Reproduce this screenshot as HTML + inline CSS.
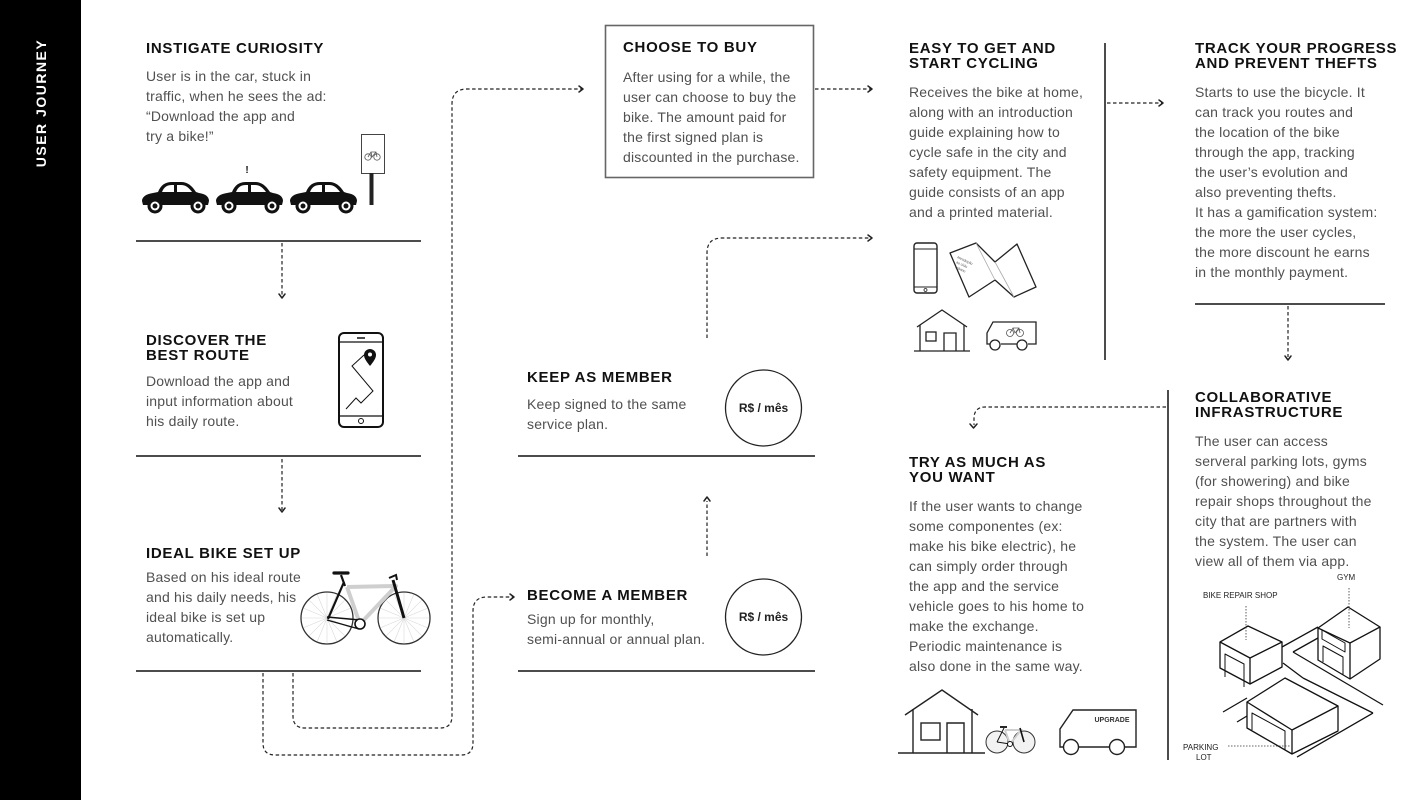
<!DOCTYPE html>
<html><head><meta charset="utf-8">
<style>
html,body{margin:0;padding:0;background:#fff;}
svg{display:block;}
.t{font-family:"Liberation Sans",sans-serif;font-weight:bold;font-size:15px;letter-spacing:0.7px;fill:#111;}
.b{font-family:"Liberation Sans",sans-serif;font-size:14px;letter-spacing:0.2px;fill:#505050;}
.d{fill:none;stroke:#222;stroke-width:1.2;stroke-dasharray:3.5 2.5;}
.c{fill:none;stroke:#222;stroke-width:1.5;stroke-linecap:round;stroke-linejoin:round;}
.sl{stroke:#111;stroke-width:1.4;}
.lbl{font-family:"Liberation Sans",sans-serif;font-size:8px;fill:#222;}
</style></head>
<body>
<svg width="1420" height="800" viewBox="0 0 1420 800" xmlns="http://www.w3.org/2000/svg">
<defs>
  <g id="car">
    <path d="M1,20 C1,16 5,13 12,12 L17,11 C20,4 24,1 31,1 L40,1 C47,1 51,5 55,11 L58,12 C65,13 68,16 68,20 L67,24 L2,24 Z" fill="#111"/>
    <path d="M21,11 C23,6 26,4 31,4 L33,4 L33,11 Z" fill="#fff"/>
    <path d="M36,4 L40,4 C45,4 48,7 51,11 L36,11 Z" fill="#fff"/>
    <circle cx="14" cy="25" r="7.5" fill="#111"/><circle cx="14" cy="25" r="4.5" fill="#fff"/><circle cx="14" cy="25" r="2.5" fill="#111"/>
    <circle cx="57" cy="25" r="7.5" fill="#111"/><circle cx="57" cy="25" r="4.5" fill="#fff"/><circle cx="57" cy="25" r="2.5" fill="#111"/>
  </g>
  <g id="spokes" stroke="#d8d8d8" stroke-width="0.6">
    <line x1="-25" y1="0" x2="25" y2="0"/><line x1="-23.1" y1="-9.6" x2="23.1" y2="9.6"/>
    <line x1="-17.7" y1="-17.7" x2="17.7" y2="17.7"/><line x1="-9.6" y1="-23.1" x2="9.6" y2="23.1"/>
    <line x1="0" y1="-25" x2="0" y2="25"/><line x1="9.6" y1="-23.1" x2="-9.6" y2="23.1"/>
    <line x1="17.7" y1="-17.7" x2="-17.7" y2="17.7"/><line x1="23.1" y1="-9.6" x2="-23.1" y2="9.6"/>
  </g>
</defs>
<rect width="1420" height="800" fill="#fff"/>
<!-- sidebar -->
<rect x="0" y="0" width="81" height="800" fill="#000"/>
<text transform="translate(46,103) rotate(-90)" text-anchor="middle" font-family="Liberation Sans, sans-serif" font-weight="bold" font-size="14" letter-spacing="1.5" fill="#fff">USER JOURNEY</text>

<!-- ===== Column 1 ===== -->
<text class="t" x="146" y="53">INSTIGATE CURIOSITY</text>
<text class="b" x="146" y="81">User is in the car, stuck in</text>
<text class="b" x="146" y="101">traffic, when he sees the ad:</text>
<text class="b" x="146" y="121">“Download the app and</text>
<text class="b" x="146" y="141">try a bike!”</text>
<use href="#car" x="141" y="181"/>
<use href="#car" x="215" y="181"/>
<use href="#car" x="289" y="181"/>
<text x="247" y="173" font-family="Liberation Sans, sans-serif" font-weight="bold" font-size="10" fill="#111" text-anchor="middle">!</text>
<rect x="361.5" y="134.5" width="23" height="39" fill="#fff" stroke="#444" stroke-width="1"/>
<rect x="369.5" y="173" width="4" height="32" fill="#222"/>
<g fill="none" stroke="#555" stroke-width="0.8">
  <circle cx="368" cy="157" r="3.2"/><circle cx="377" cy="157" r="3.2"/>
  <path d="M368,157 L371,152 L376,152 L377,157 M371,152 L372,157 L376,152"/>
</g>
<line class="sl" x1="136" y1="241" x2="421" y2="241"/>
<path class="d" d="M282,243 V296"/><path class="c" d="M279,294 L282,298 L285,294"/>

<text class="t" x="146" y="345">DISCOVER THE</text>
<text class="t" x="146" y="360">BEST ROUTE</text>
<text class="b" x="146" y="386">Download the app and</text>
<text class="b" x="146" y="406">input information about</text>
<text class="b" x="146" y="426">his daily route.</text>
<rect x="339" y="333" width="44" height="94" rx="5" fill="none" stroke="#111" stroke-width="2"/>
<line x1="339" y1="342" x2="383" y2="342" stroke="#111" stroke-width="1.2"/>
<line x1="339" y1="416" x2="383" y2="416" stroke="#111" stroke-width="1.2"/>
<line x1="357" y1="338" x2="365" y2="338" stroke="#111" stroke-width="1.5"/>
<circle cx="361" cy="421" r="2.5" fill="none" stroke="#111" stroke-width="1"/>
<polyline points="346,409 356,398 361,403 373,391 352,366 364,355" fill="none" stroke="#111" stroke-width="1"/>
<path d="M370,366 C366,361 364,358 364,355 A6,6 0 1 1 376,355 C376,358 374,361 370,366 Z" fill="#111"/>
<circle cx="370" cy="354.5" r="2" fill="#fff"/>
<line class="sl" x1="136" y1="456" x2="421" y2="456"/>
<path class="d" d="M282,459 V510"/><path class="c" d="M279,508 L282,512 L285,508"/>

<text class="t" x="146" y="558">IDEAL BIKE SET UP</text>
<text class="b" x="146" y="582">Based on his ideal route</text>
<text class="b" x="146" y="602">and his daily needs, his</text>
<text class="b" x="146" y="622">ideal bike is set up</text>
<text class="b" x="146" y="642">automatically.</text>
<!-- bike -->
<use href="#spokes" x="327" y="618"/>
<use href="#spokes" x="404" y="618"/>
<circle cx="327" cy="618" r="26" fill="none" stroke="#333" stroke-width="1.3"/>
<circle cx="404" cy="618" r="26" fill="none" stroke="#333" stroke-width="1.3"/>
<polyline points="347,587 396,586 360,624 347,587" fill="none" stroke="#cfcfcf" stroke-width="4" stroke-linejoin="round"/>
<line x1="344" y1="582" x2="328" y2="619" stroke="#111" stroke-width="2.2"/>
<line x1="341" y1="575" x2="345" y2="586" stroke="#111" stroke-width="2.2"/>
<line x1="334" y1="573" x2="348" y2="573" stroke="#111" stroke-width="3.2" stroke-linecap="round"/>
<line x1="327" y1="617" x2="360" y2="620" stroke="#111" stroke-width="1.4"/>
<line x1="327" y1="620" x2="359" y2="629" stroke="#111" stroke-width="1.4"/>
<circle cx="360" cy="624" r="5" fill="#fff" stroke="#111" stroke-width="1.6"/>
<line x1="393" y1="580" x2="404" y2="618" stroke="#111" stroke-width="3"/>
<path d="M389,578 L396,575 L397,580" fill="none" stroke="#111" stroke-width="2"/>
<line class="sl" x1="136" y1="671" x2="421" y2="671"/>

<!-- long connectors -->
<path class="d" d="M293,673 V716 Q293,728 305,728 H440 Q452,728 452,716 V104 Q452,89 467,89 H582"/>
<path class="c" d="M579,86 L583,89 L579,92"/>
<path class="d" d="M263,673 V743 Q263,755 275,755 H461 Q473,755 473,743 V611 Q473,597 487,597 H513"/>
<path class="c" d="M510,594 L514,597 L510,600"/>

<!-- ===== Column 2 ===== -->
<rect x="605.5" y="25.5" width="208" height="152" fill="none" stroke="#666" stroke-width="1.6"/>
<text class="t" x="623" y="52">CHOOSE TO BUY</text>
<text class="b" x="623" y="82">After using for a while, the</text>
<text class="b" x="623" y="102">user can choose to buy the</text>
<text class="b" x="623" y="122">bike. The amount paid for</text>
<text class="b" x="623" y="142">the first signed plan is</text>
<text class="b" x="623" y="162">discounted in the purchase.</text>
<path class="d" d="M815,89 H871"/><path class="c" d="M868,86 L872,89 L868,92"/>

<path class="d" d="M707,338 V253 Q707,238 722,238 H871"/><path class="c" d="M868,235 L872,238 L868,241"/>

<text class="t" x="527" y="382">KEEP AS MEMBER</text>
<text class="b" x="527" y="409">Keep signed to the same</text>
<text class="b" x="527" y="429">service plan.</text>
<circle cx="763.5" cy="408" r="38" fill="none" stroke="#222" stroke-width="1.3"/>
<text x="763.5" y="412" text-anchor="middle" font-family="Liberation Sans, sans-serif" font-weight="bold" font-size="12" fill="#222">R$ / mês</text>
<line class="sl" x1="518" y1="456" x2="815" y2="456"/>

<path class="d" d="M707,556 V501"/><path class="c" d="M704,501 L707,497 L710,501"/>

<text class="t" x="527" y="600">BECOME A MEMBER</text>
<text class="b" x="527" y="624">Sign up for monthly,</text>
<text class="b" x="527" y="644">semi-annual or annual plan.</text>
<circle cx="763.5" cy="617" r="38" fill="none" stroke="#222" stroke-width="1.3"/>
<text x="763.5" y="621" text-anchor="middle" font-family="Liberation Sans, sans-serif" font-weight="bold" font-size="12" fill="#222">R$ / mês</text>
<line class="sl" x1="518" y1="671" x2="815" y2="671"/>

<!-- ===== Column 3 ===== -->
<text class="t" x="909" y="53">EASY TO GET AND</text>
<text class="t" x="909" y="68">START CYCLING</text>
<text class="b" x="909" y="97">Receives the bike at home,</text>
<text class="b" x="909" y="117">along with an introduction</text>
<text class="b" x="909" y="137">guide explaining how to</text>
<text class="b" x="909" y="157">cycle safe in the city and</text>
<text class="b" x="909" y="177">safety equipment. The</text>
<text class="b" x="909" y="197">guide consists of an app</text>
<text class="b" x="909" y="217">and a printed material.</text>
<!-- small phone -->
<rect x="914" y="243" width="23" height="50" rx="3" fill="none" stroke="#222" stroke-width="1.4"/>
<line x1="914" y1="249" x2="937" y2="249" stroke="#222" stroke-width="1"/>
<line x1="914" y1="287" x2="937" y2="287" stroke="#222" stroke-width="1"/>
<circle cx="925.5" cy="290" r="1.5" fill="none" stroke="#222" stroke-width="0.8"/>
<!-- brochure -->
<polygon points="950,253 976,243 995,262 1017,244 1036,287 1014,297 995,280 969,297" fill="#fff" stroke="#222" stroke-width="1.3" stroke-linejoin="round"/>
<line x1="976" y1="243" x2="995" y2="280" stroke="#aaa" stroke-width="0.8"/>
<line x1="995" y1="262" x2="1014" y2="297" stroke="#aaa" stroke-width="0.8"/>
<text transform="translate(957,258) rotate(25)" font-family="Liberation Sans, sans-serif" font-size="3.5" fill="#444">Introdução</text>
<text transform="translate(956,263) rotate(25)" font-family="Liberation Sans, sans-serif" font-size="3.5" fill="#444">ao ciclo</text>
<text transform="translate(955,268) rotate(25)" font-family="Liberation Sans, sans-serif" font-size="3.5" fill="#444">urbano</text>
<!-- house small -->
<g fill="none" stroke="#222" stroke-width="1.3">
  <polyline points="917,327 942,310 967,327"/>
  <line x1="920" y1="325" x2="920" y2="351"/><line x1="964" y1="325" x2="964" y2="351"/>
  <line x1="914" y1="351" x2="970" y2="351"/>
  <rect x="926" y="332" width="10" height="9"/>
  <polyline points="944,351 944,333 956,333 956,351"/>
</g>
<!-- van small -->
<g fill="none" stroke="#222" stroke-width="1.3">
  <path d="M990,344 L987,344 L987,333 L993,322 L1036,322 L1036,344 L1028,344 M1017,344 L1001,344"/>
  <circle cx="995" cy="345" r="5" fill="#fff"/><circle cx="1022" cy="345" r="5" fill="#fff"/>
</g>
<g fill="none" stroke="#555" stroke-width="0.8">
  <circle cx="1010" cy="333" r="3.5"/><circle cx="1020" cy="333" r="3.5"/>
  <path d="M1010,333 L1013,328 L1019,328 L1020,333 M1013,328 L1015,333 L1019,328"/>
</g>

<line x1="1105" y1="43" x2="1105" y2="360" stroke="#111" stroke-width="1.5"/>
<path class="d" d="M1107,103 H1162"/><path class="c" d="M1159,100 L1163,103 L1159,106"/>

<text class="t" x="909" y="467">TRY AS MUCH AS</text>
<text class="t" x="909" y="482">YOU WANT</text>
<text class="b" x="909" y="511">If the user wants to change</text>
<text class="b" x="909" y="531">some componentes (ex:</text>
<text class="b" x="909" y="551">make his bike electric), he</text>
<text class="b" x="909" y="571">can simply order through</text>
<text class="b" x="909" y="591">the app and the service</text>
<text class="b" x="909" y="611">vehicle goes to his home to</text>
<text class="b" x="909" y="631">make the exchange.</text>
<text class="b" x="909" y="651">Periodic maintenance is</text>
<text class="b" x="909" y="671">also done in the same way.</text>
<!-- house large -->
<g fill="none" stroke="#222" stroke-width="1.4">
  <polyline points="905,715 942,690 978,715"/>
  <line x1="913" y1="709" x2="913" y2="753"/><line x1="972" y1="709" x2="972" y2="753"/>
  <line x1="898" y1="753" x2="985" y2="753"/>
  <rect x="921" y="723" width="19" height="17"/>
  <polyline points="947,753 947,723 964,723 964,753"/>
</g>
<!-- small bike -->
<circle cx="997" cy="742" r="11" fill="#f2f2f2" stroke="#333" stroke-width="1"/>
<circle cx="1024" cy="742" r="11" fill="#f2f2f2" stroke="#333" stroke-width="1"/>
<polyline points="1005,730 1021,730 1010,744 1005,730" fill="none" stroke="#cfcfcf" stroke-width="2"/>
<line x1="1004" y1="728" x2="997" y2="742" stroke="#111" stroke-width="1"/>
<line x1="1000" y1="727" x2="1007" y2="727" stroke="#111" stroke-width="1.8"/>
<line x1="1020" y1="728" x2="1024" y2="742" stroke="#111" stroke-width="1.6"/>
<line x1="997" y1="742" x2="1010" y2="744" stroke="#111" stroke-width="1"/>
<circle cx="1010" cy="744" r="2.5" fill="#fff" stroke="#111" stroke-width="1"/>
<!-- upgrade van -->
<g fill="none" stroke="#222" stroke-width="1.4">
  <path d="M1063,747 L1060,747 L1060,729 L1073,710 L1136,710 L1136,747 L1125,747 M1109,747 L1079,747"/>
  <circle cx="1071" cy="747" r="7.5" fill="#fff"/><circle cx="1117" cy="747" r="7.5" fill="#fff"/>
</g>
<text x="1112" y="722" text-anchor="middle" font-family="Liberation Sans, sans-serif" font-weight="bold" font-size="7" fill="#333">UPGRADE</text>

<!-- ===== Column 4 ===== -->
<text class="t" x="1195" y="53">TRACK YOUR PROGRESS</text>
<text class="t" x="1195" y="68">AND PREVENT THEFTS</text>
<text class="b" x="1195" y="97">Starts to use the bicycle. It</text>
<text class="b" x="1195" y="117">can track you routes and</text>
<text class="b" x="1195" y="137">the location of the bike</text>
<text class="b" x="1195" y="157">through the app, tracking</text>
<text class="b" x="1195" y="177">the user’s evolution and</text>
<text class="b" x="1195" y="197">also preventing thefts.</text>
<text class="b" x="1195" y="217">It has a gamification system:</text>
<text class="b" x="1195" y="237">the more the user cycles,</text>
<text class="b" x="1195" y="257">the more discount he earns</text>
<text class="b" x="1195" y="277">in the monthly payment.</text>
<line class="sl" x1="1195" y1="304" x2="1385" y2="304"/>
<path class="d" d="M1288,306 V357"/><path class="c" d="M1285,356 L1288,360 L1291,356"/>

<line x1="1168" y1="390" x2="1168" y2="760" stroke="#111" stroke-width="1.5"/>
<path class="d" d="M1166,407 H985 Q975,407 974,417 V425"/><path class="c" d="M970,424 L973.5,428 L977,424"/>

<text class="t" x="1195" y="402">COLLABORATIVE</text>
<text class="t" x="1195" y="417">INFRASTRUCTURE</text>
<text class="b" x="1195" y="446">The user can access</text>
<text class="b" x="1195" y="466">serveral parking lots, gyms</text>
<text class="b" x="1195" y="486">(for showering) and bike</text>
<text class="b" x="1195" y="506">repair shops throughout the</text>
<text class="b" x="1195" y="526">city that are partners with</text>
<text class="b" x="1195" y="546">the system. The user can</text>
<text class="b" x="1195" y="566">view all of them via app.</text>

<!-- isometric city -->
<g fill="none" stroke="#111" stroke-width="1.3" stroke-linejoin="round">
  <!-- roads -->
  <line x1="1282" y1="647" x2="1318" y2="627"/>
  <line x1="1293" y1="652" x2="1383" y2="705"/>
  <line x1="1293" y1="652" x2="1318" y2="638"/>
  <line x1="1283" y1="663" x2="1303" y2="678"/>
  <line x1="1303" y1="678" x2="1373" y2="713"/>
  <line x1="1373" y1="713" x2="1297" y2="757"/>
  <line x1="1223" y1="712" x2="1247" y2="698"/>
  <line x1="1237" y1="722" x2="1247" y2="716"/>
  <!-- repair shop cube -->
  <polygon points="1220,642 1248,626 1282,642 1250,658" fill="#fff"/>
  <polyline points="1220,642 1220,668 1250,684 1282,667 1282,642"/>
  <line x1="1250" y1="658" x2="1250" y2="684"/>
  <polyline points="1225,677 1225,654 1244,664 1244,687" stroke-width="1"/>
  <!-- gym cube -->
  <polygon points="1318,628 1348,607 1380,627 1350,643" fill="#fff"/>
  <polyline points="1318,628 1318,660 1350,679 1380,659 1380,627"/>
  <line x1="1350" y1="643" x2="1350" y2="679"/>
  <polygon points="1322,630 1345,643 1345,652 1322,639" stroke-width="1"/>
  <polyline points="1323,662 1323,646 1343,657 1343,675" stroke-width="1"/>
  <!-- parking lot -->
  <polygon points="1247,702 1285,678 1338,706 1292,730" fill="#fff"/>
  <polyline points="1247,702 1247,728 1292,754 1338,731 1338,706"/>
  <line x1="1292" y1="730" x2="1292" y2="754"/>
  <polyline points="1252,730 1252,713 1285,731 1285,750" stroke-width="1"/>
</g>
<g stroke="#333" stroke-width="0.8" stroke-dasharray="1.5 1.5" fill="none">
  <line x1="1246" y1="606" x2="1246" y2="640"/>
  <line x1="1349" y1="588" x2="1349" y2="628"/>
  <line x1="1228" y1="746" x2="1290" y2="746"/>
</g>
<text class="lbl" x="1337" y="580">GYM</text>
<text class="lbl" x="1203" y="598">BIKE REPAIR SHOP</text>
<text class="lbl" x="1183" y="750">PARKING</text>
<text class="lbl" x="1196" y="760">LOT</text>
</svg>
</body></html>
